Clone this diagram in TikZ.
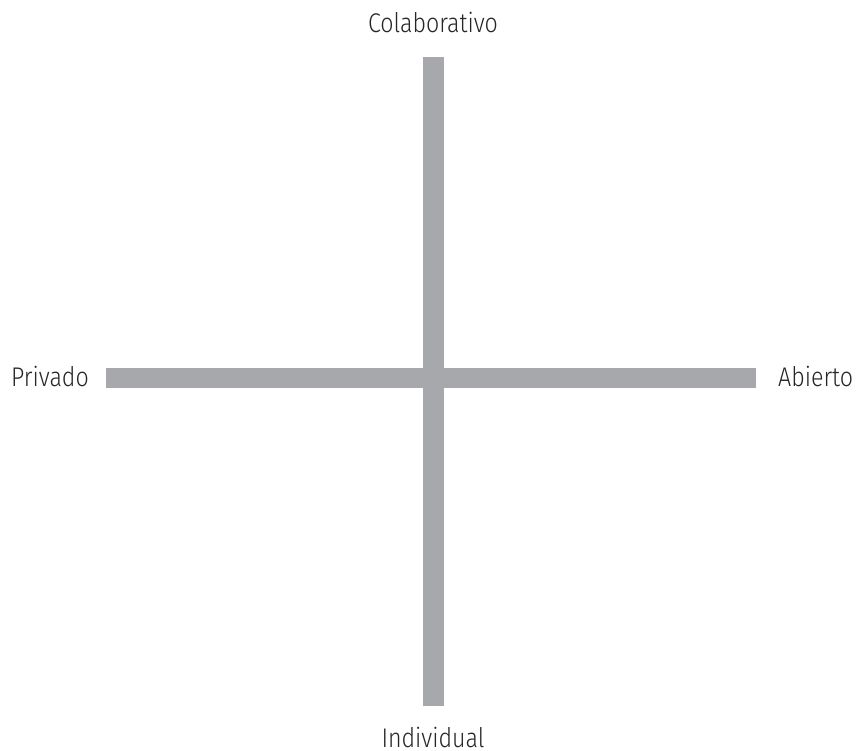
\documentclass[tikz,border=0pt]{standalone}
\usepackage{fontspec}
\setmainfont{Fira Sans Light}[FakeStretch=0.86]
\usetikzlibrary{positioning}

\begin{document}
\begin{tikzpicture}[x=1pt,y=-1pt]
	\tikzset{
	  axis/.style  = {draw=barGray, line width=20.5pt},
	  label/.style = {font=\fontsize{27}{30}\selectfont, inner sep=0pt, text=black!85}
	}
	\definecolor{barGray}{HTML}{A7A8AC}
	\useasboundingbox (0,0) rectangle (857,751);

	% end points of the two bars
	\coordinate (left)   at (106,378);
	\coordinate (right)  at (756,378);
	\coordinate (top)    at (433.5,57);
	\coordinate (bottom) at (433.5,706);

	\draw[axis] (left) -- (right);
	\draw[axis] (top) -- (bottom);

	% the four poles
	\node[label, anchor=base east] (priv) at (89,386) {Privado};
	\node[label, anchor=base west] (abie) at (778,386) {Abierto};
	\node[label, anchor=base] (cola) at (433,33) {Colaborativo};
	\node[label, anchor=base] (indi) at (433,747) {Individual};
\end{tikzpicture}
\end{document}
